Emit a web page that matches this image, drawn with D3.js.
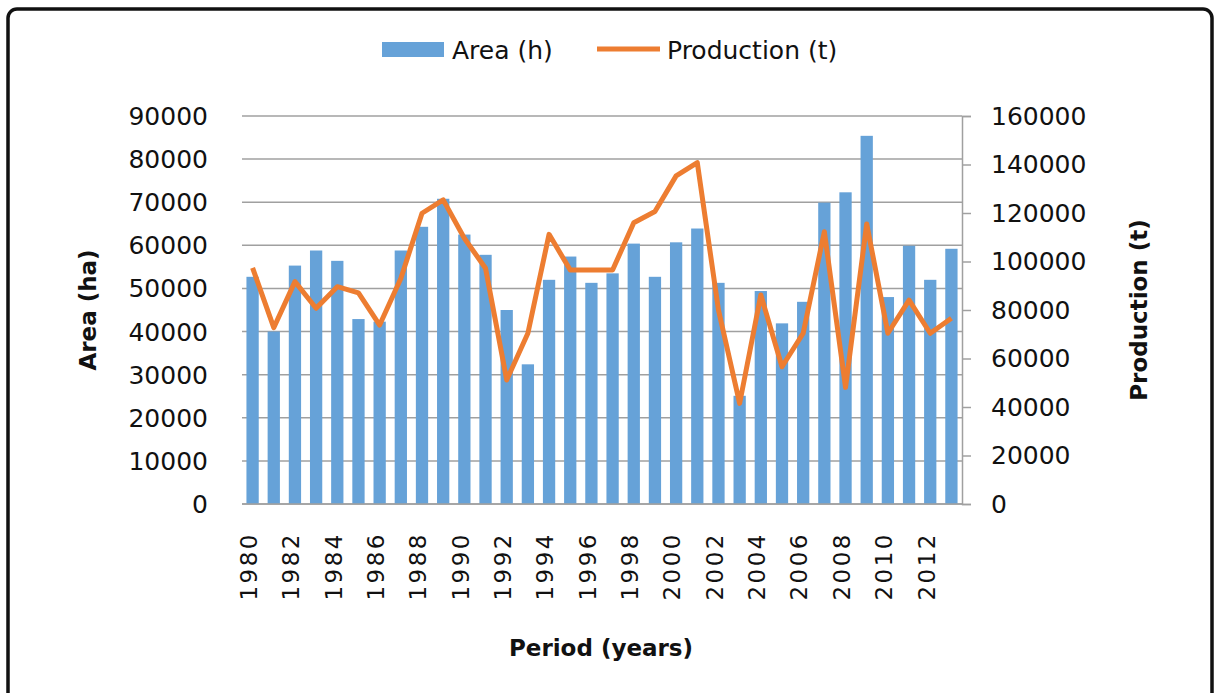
<!DOCTYPE html>
<html>
<head>
<meta charset="utf-8">
<script src="https://cdn.jsdelivr.net/npm/d3@7"></script>
<style>
  body { margin: 0; background: #fff; }
  svg { display: block; }
  text { font-family: "DejaVu Sans", sans-serif; fill: #111; }
</style>
</head>
<body>
<svg id="chart" width="1219" height="693"></svg>
<script>
// data
const years = d3.range(1980, 2014).map(String);
const area = [52700, 40000, 55300, 58800, 56400, 42900, 42300, 58800, 64300, 70800,
              62500, 57800, 45000, 32400, 52000, 57400, 51300, 53500, 60400, 52700,
              60700, 63900, 51300, 25100, 49400, 41900, 46900, 69900, 72300, 85400,
              48000, 59900, 52000, 59200];
const production = [97400, 72700, 91700, 80700, 89600, 87100, 73800, 93000, 119900, 125400,
                    109600, 97200, 51100, 70400, 111200, 96500, 96500, 96500, 116000, 120600,
                    135300, 140800, 80000, 41500, 86200, 56600, 70400, 112300, 48100, 115500,
                    70400, 84100, 70400, 76600];
const areaTicks = d3.range(0, 90001, 10000);
const prodTicks = d3.range(0, 160001, 20000);
const yearLabels = years.filter((d, i) => i % 2 === 0);

const margin = {left: 242, right: 257, top: 116, bottom: 189};
const width = 1219 - margin.left - margin.right;
const height = 693 - margin.top - margin.bottom;

const svg = d3.select("#chart");

// outer frame
svg.append("rect")
    .attr("x", 8).attr("y", 9)
    .attr("width", 1204).attr("height", 710)
    .attr("rx", 9)
    .attr("fill", "none")
    .attr("stroke", "#111")
    .attr("stroke-width", 3.5);

const g = svg.append("g")
    .attr("transform", "translate(" + margin.left + "," + margin.top + ")");

const x = d3.scaleBand().domain(years).range([0, width])
    .paddingInner(0.42).paddingOuter(0.21);
const yL = d3.scaleLinear().domain([0, 90000]).range([height, 0]);
const yR = d3.scaleLinear().domain([0, 160000]).range([height, 0]);

// gridlines
g.append("g").selectAll("line").data(areaTicks).enter().append("line")
    .attr("x1", 0).attr("x2", width)
    .attr("y1", d => yL(d)).attr("y2", d => yL(d))
    .attr("stroke", "#a0a0a0").attr("stroke-width", 1.5);

// left tick labels
g.append("g").selectAll("text").data(areaTicks).enter().append("text")
    .attr("x", -34).attr("y", d => yL(d))
    .attr("dy", "0.36em")
    .attr("text-anchor", "end")
    .style("font-size", "25px")
    .text(d => d);

// bars
g.append("g").selectAll("rect").data(years).enter().append("rect")
    .attr("x", d => x(d))
    .attr("y", (d, i) => yL(area[i]))
    .attr("width", x.bandwidth())
    .attr("height", (d, i) => height - yL(area[i]))
    .attr("fill", "#66a2d8");

// bottom axis line
g.append("line")
    .attr("x1", 0).attr("x2", width)
    .attr("y1", height).attr("y2", height)
    .attr("stroke", "#a0a0a0").attr("stroke-width", 1.5);

// right axis
const rightAxis = d3.axisRight(yR).tickValues(prodTicks).tickSize(9).tickFormat(d => d);
const ra = g.append("g")
    .attr("transform", "translate(" + width + ",0)")
    .call(rightAxis);
ra.select(".domain").attr("stroke", "#a0a0a0").attr("stroke-width", 1.5);
ra.selectAll(".tick line").attr("stroke", "#a0a0a0").attr("stroke-width", 1.5);
ra.selectAll(".tick text")
    .attr("x", 29)
    .style("font-size", "25px")
    .style("font-family", "'DejaVu Sans', sans-serif")
    .attr("fill", "#111");

// production line
const line = d3.line()
    .x((d, i) => x(years[i]) + x.bandwidth() / 2)
    .y(d => yR(d));
g.append("path")
    .datum(production)
    .attr("d", line)
    .attr("fill", "none")
    .attr("stroke", "#ed7d31")
    .attr("stroke-width", 5)
    .attr("stroke-linejoin", "round");

// year labels
g.append("g").selectAll("text").data(yearLabels).enter().append("text")
    .attr("transform", d => "translate(" + (x(d) + x.bandwidth() / 2 - 4) + "," + (height + 28) + ") rotate(-90)")
    .attr("dy", "0.36em")
    .attr("text-anchor", "end")
    .style("font-size", "23px")
    .style("letter-spacing", "2.5px")
    .text(d => d);

// axis titles
svg.append("text")
    .attr("transform", "translate(96,310) rotate(-90)")
    .attr("text-anchor", "middle")
    .style("font-size", "23px").style("font-weight", "bold")
    .text("Area (ha)");
svg.append("text")
    .attr("transform", "translate(1147,310) rotate(-90)")
    .attr("text-anchor", "middle")
    .style("font-size", "23px").style("font-weight", "bold")
    .text("Production (t)");
svg.append("text")
    .attr("x", 601).attr("y", 656)
    .attr("text-anchor", "middle")
    .style("font-size", "23px").style("font-weight", "bold")
    .text("Period (years)");

// legend
const legend = svg.append("g");
legend.append("rect")
    .attr("x", 382).attr("y", 42).attr("width", 62).attr("height", 15)
    .attr("fill", "#66a2d8");
legend.append("text")
    .attr("x", 452).attr("y", 50).attr("dy", "0.36em")
    .style("font-size", "25px")
    .text("Area (h)");
legend.append("line")
    .attr("x1", 597).attr("x2", 660).attr("y1", 49).attr("y2", 49)
    .attr("stroke", "#ed7d31").attr("stroke-width", 5);
legend.append("text")
    .attr("x", 667).attr("y", 50).attr("dy", "0.36em")
    .style("font-size", "25px")
    .text("Production (t)");
</script>
</body>
</html>
